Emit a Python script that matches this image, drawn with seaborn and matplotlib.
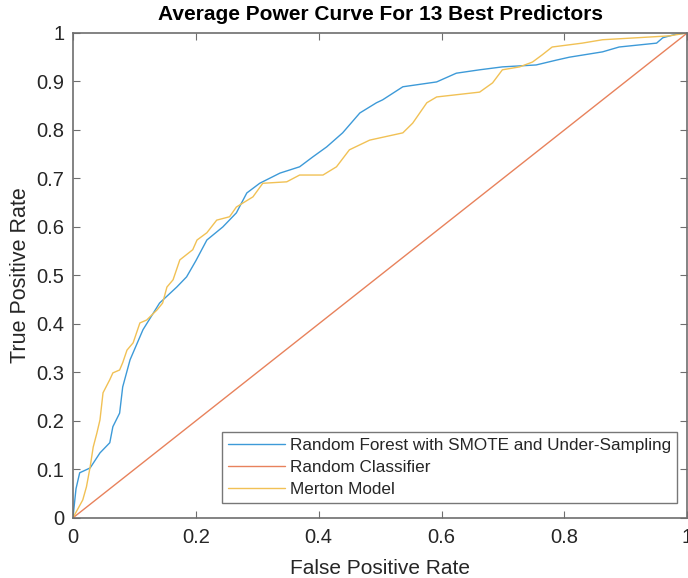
import numpy as np
import pandas as pd
import seaborn as sns
import matplotlib
matplotlib.use("Agg")
import matplotlib.pyplot as plt

# ---- data ----
rf_fpr = [0, 0.005, 0.011, 0.028, 0.044, 0.06, 0.065, 0.076, 0.081, 0.093,
          0.114, 0.141, 0.169, 0.185, 0.2, 0.218, 0.244, 0.266, 0.283, 0.304,
          0.337, 0.369, 0.39, 0.413, 0.439, 0.467, 0.494, 0.504, 0.537, 0.592,
          0.624, 0.662, 0.699, 0.754, 0.787, 0.808, 0.862, 0.889, 0.95, 0.96,
          0.98, 1.0]
rf_tpr = [0, 0.06, 0.093, 0.103, 0.134, 0.155, 0.188, 0.216, 0.27, 0.326,
          0.388, 0.443, 0.476, 0.497, 0.53, 0.573, 0.6, 0.629, 0.67, 0.69,
          0.711, 0.724, 0.744, 0.765, 0.794, 0.835, 0.856, 0.862, 0.889, 0.899,
          0.917, 0.924, 0.93, 0.934, 0.944, 0.95, 0.961, 0.971, 0.979, 0.99,
          0.997, 1.0]

rand_fpr = [0.0, 1.0]
rand_tpr = [0.0, 1.0]

m_fpr = [0, 0.016, 0.022, 0.028, 0.033, 0.039, 0.044, 0.049, 0.06, 0.065,
         0.076, 0.081, 0.088, 0.098, 0.109, 0.12, 0.137, 0.146, 0.153, 0.163,
         0.174, 0.195, 0.202, 0.218, 0.234, 0.255, 0.266, 0.293, 0.309, 0.348,
         0.369, 0.407, 0.429, 0.45, 0.483, 0.537, 0.553, 0.576, 0.592, 0.662,
         0.683, 0.699, 0.727, 0.748, 0.764, 0.78, 0.829, 0.862, 0.917, 0.971,
         1.0]
m_tpr = [0, 0.037, 0.064, 0.105, 0.146, 0.175, 0.202, 0.258, 0.285, 0.299,
         0.305, 0.32, 0.346, 0.361, 0.402, 0.408, 0.429, 0.443, 0.476, 0.491,
         0.532, 0.553, 0.573, 0.588, 0.614, 0.621, 0.641, 0.662, 0.69, 0.693,
         0.707, 0.707, 0.724, 0.759, 0.779, 0.794, 0.814, 0.856, 0.868, 0.878,
         0.897, 0.924, 0.93, 0.94, 0.955, 0.971, 0.979, 0.986, 0.99, 0.994,
         1.0]

labels = ["Random Forest with SMOTE and Under-Sampling",
          "Random Classifier",
          "Merton Model"]
x_ticks = [0, 0.2, 0.4, 0.6, 0.8, 1]
x_tick_labels = ["0", "0.2", "0.4", "0.6", "0.8", "1"]
y_ticks = [0, 0.1, 0.2, 0.3, 0.4, 0.5, 0.6, 0.7, 0.8, 0.9, 1]
y_tick_labels = ["0", "0.1", "0.2", "0.3", "0.4", "0.5", "0.6", "0.7", "0.8", "0.9", "1"]

df = pd.concat([
    pd.DataFrame({"fpr": rf_fpr, "tpr": rf_tpr, "model": labels[0]}),
    pd.DataFrame({"fpr": rand_fpr, "tpr": rand_tpr, "model": labels[1]}),
    pd.DataFrame({"fpr": m_fpr, "tpr": m_tpr, "model": labels[2]}),
], ignore_index=True)

sns.set_theme(style="white")
plt.rcParams["font.family"] = ["Liberation Sans", "DejaVu Sans"]

fig = plt.figure(figsize=(6.88, 5.78), dpi=100)
ax = fig.add_axes([0.106, 0.104, 0.893, 0.839])

palette = {labels[0]: "#3d9ad8", labels[1]: "#e8825c", labels[2]: "#f1c155"}
sns.lineplot(data=df, x="fpr", y="tpr", hue="model", hue_order=labels,
             palette=palette, sort=False, estimator=None,
             linewidth=1.0, ax=ax, legend=True)

ax.set_xlim(0, 1)
ax.set_ylim(0, 1)
ax.set_xticks(x_ticks)
ax.set_xticklabels(x_tick_labels)
ax.set_yticks(y_ticks)
ax.set_yticklabels(y_tick_labels)

text_col = "#262626"
frame_col = "#6e6e6e"
for s in ax.spines.values():
    s.set_visible(True)
    s.set_color(frame_col)
    s.set_linewidth(1.2)
ax.tick_params(direction="in", length=5, width=0.8, colors=frame_col,
               labelcolor=text_col, labelsize=14.5, top=True, right=True,
               bottom=True, left=True)
ax.tick_params(axis="x", pad=7)
ax.tick_params(axis="y", pad=6)

ax.set_xlabel("False Positive Rate", fontsize=15, color=text_col, labelpad=9)
ax.set_ylabel("True Positive Rate", fontsize=15.5, color=text_col, labelpad=4)
ax.set_title("Average Power Curve For 13 Best Predictors", fontsize=15,
             fontweight="bold", color="#000000", pad=9)

leg = ax.legend(loc="lower right", bbox_to_anchor=(0.983, 0.031), fontsize=12.3,
                frameon=True, fancybox=False, edgecolor="#555555",
                handlelength=3.3, handletextpad=0.3, borderpad=0.35,
                labelspacing=0.42, borderaxespad=0.0)
leg.get_frame().set_linewidth(1.0)
for t in leg.get_texts():
    t.set_color(text_col)

fig.savefig("out.png", dpi=100)
